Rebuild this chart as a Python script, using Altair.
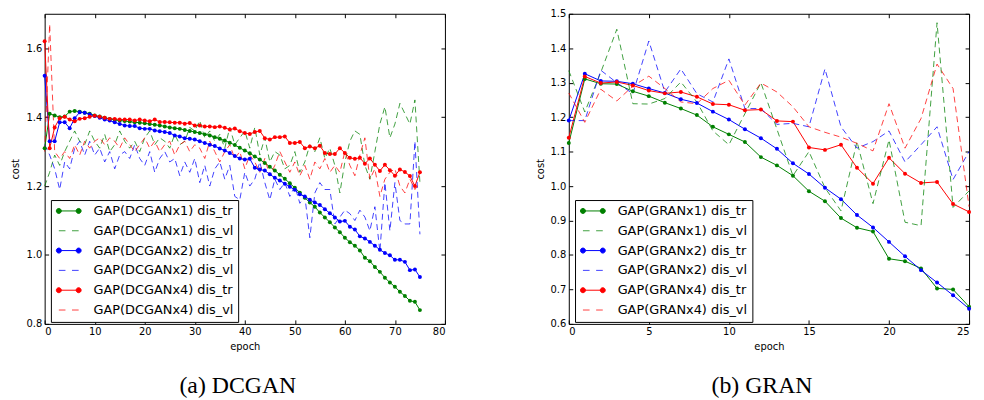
import altair as alt
import pandas as pd

# ---------------- DCGAN panel data (epochs 0..75) ----------------
dc_epochs = list(range(76))
dc_labels = ["GAP(DCGANx1) dis_tr", "GAP(DCGANx1) dis_vl",
             "GAP(DCGANx2) dis_tr", "GAP(DCGANx2) dis_vl",
             "GAP(DCGANx4) dis_tr", "GAP(DCGANx4) dis_vl"]

dc_x1_tr = [1.31, 1.41, 1.405, 1.40, 1.402, 1.416, 1.418, 1.416, 1.413, 1.41,
            1.405, 1.402, 1.398, 1.395, 1.392, 1.390, 1.389, 1.387, 1.385, 1.384,
            1.382, 1.380, 1.378, 1.376, 1.373, 1.370, 1.368, 1.366, 1.363, 1.360,
            1.357, 1.354, 1.350, 1.347, 1.342, 1.337, 1.332, 1.326, 1.319, 1.311,
            1.303, 1.295, 1.286, 1.277, 1.267, 1.256, 1.245, 1.233, 1.221, 1.208,
            1.195, 1.181, 1.166, 1.152, 1.140, 1.123, 1.109, 1.095, 1.080, 1.066,
            1.050, 1.037, 1.027, 1.013, 0.992, 0.982, 0.965, 0.951, 0.934, 0.920,
            0.908, 0.893, 0.881, 0.867, 0.864, 0.840]
dc_x1_vl = [1.20, 1.24, 1.29, 1.26, 1.30, 1.33, 1.36, 1.33, 1.32, 1.36,
            1.33, 1.31, 1.35, 1.30, 1.32, 1.36, 1.33, 1.31, 1.33, 1.30,
            1.34, 1.36, 1.32, 1.34, 1.33, 1.31, 1.35, 1.32, 1.33, 1.37,
            1.36, 1.39, 1.34, 1.36, 1.33, 1.35, 1.31, 1.37, 1.32, 1.34,
            1.36, 1.31, 1.37, 1.29, 1.34, 1.27, 1.30, 1.29, 1.25, 1.26,
            1.30, 1.24, 1.27, 1.32, 1.30, 1.34, 1.28, 1.31, 1.26, 1.18,
            1.27, 1.33, 1.36, 1.35, 1.26, 1.22, 1.30, 1.38, 1.43, 1.34,
            1.38, 1.44, 1.41, 1.38, 1.45, 1.21]
dc_x2_tr = [1.52, 1.33, 1.33, 1.385, 1.385, 1.368, 1.397, 1.414, 1.413, 1.408,
            1.403, 1.398, 1.393, 1.390, 1.385, 1.380, 1.376, 1.374, 1.374, 1.368,
            1.366, 1.366, 1.361, 1.359, 1.357, 1.354, 1.347, 1.344, 1.339, 1.337,
            1.335, 1.330, 1.325, 1.320, 1.316, 1.309, 1.303, 1.296, 1.287, 1.280,
            1.277, 1.279, 1.253, 1.248, 1.245, 1.234, 1.224, 1.216, 1.207, 1.198,
            1.189, 1.176, 1.170, 1.160, 1.152, 1.145, 1.133, 1.121, 1.109, 1.097,
            1.099, 1.082, 1.074, 1.054, 1.048, 1.038, 1.027, 1.015, 1.006, 0.999,
            0.986, 0.986, 0.980, 0.956, 0.958, 0.936]
dc_x2_vl = [1.32, 1.29, 1.25, 1.19, 1.27, 1.25, 1.31, 1.33, 1.29, 1.33,
            1.29, 1.31, 1.27, 1.30, 1.25, 1.29, 1.30, 1.28, 1.32, 1.28,
            1.26, 1.30, 1.24, 1.28, 1.30, 1.27, 1.28, 1.23, 1.27, 1.24,
            1.28, 1.21, 1.26, 1.20, 1.25, 1.27, 1.22, 1.26, 1.17, 1.16,
            1.24, 1.20, 1.22, 1.27, 1.21, 1.16, 1.22, 1.19, 1.21, 1.17,
            1.20, 1.15, 1.17, 1.05, 1.18, 1.21, 1.19, 1.19, 1.09, 1.11,
            1.13, 1.12, 1.10, 1.13, 1.11, 1.07, 1.14, 1.01, 1.21, 1.07,
            1.21, 1.10, 1.09, 1.09, 1.33, 1.06]
dc_x4_tr = [1.62, 1.31, 1.37, 1.397, 1.401, 1.393, 1.388, 1.395, 1.397, 1.401,
            1.404, 1.401, 1.398, 1.395, 1.395, 1.393, 1.393, 1.393, 1.390, 1.393,
            1.390, 1.388, 1.393, 1.386, 1.386, 1.385, 1.384, 1.384, 1.381, 1.383,
            1.376, 1.376, 1.373, 1.373, 1.371, 1.373, 1.369, 1.364, 1.367, 1.359,
            1.354, 1.351, 1.357, 1.360, 1.339, 1.335, 1.342, 1.342, 1.344, 1.325,
            1.325, 1.328, 1.310, 1.315, 1.310, 1.317, 1.296, 1.293, 1.293, 1.310,
            1.296, 1.282, 1.279, 1.282, 1.265, 1.280, 1.262, 1.244, 1.262, 1.246,
            1.230, 1.248, 1.241, 1.229, 1.200, 1.240]
dc_x4_vl = [1.30, 1.67, 1.30, 1.28, 1.30, 1.28, 1.32, 1.29, 1.33, 1.31,
            1.33, 1.34, 1.32, 1.34, 1.33, 1.31, 1.34, 1.32, 1.30, 1.32,
            1.34, 1.31, 1.33, 1.30, 1.32, 1.33, 1.29, 1.32, 1.33, 1.30,
            1.32, 1.31, 1.28, 1.33, 1.30, 1.27, 1.30, 1.32, 1.28, 1.30,
            1.25, 1.29, 1.27, 1.24, 1.28, 1.23, 1.26, 1.30, 1.27, 1.24,
            1.27, 1.23, 1.26, 1.22, 1.27, 1.25, 1.28, 1.24, 1.26, 1.24,
            1.30, 1.26, 1.23, 1.29, 1.34, 1.22, 1.25, 1.17, 1.22, 1.24,
            1.25, 1.20, 1.18, 1.22, 1.19, 1.21]

# ---------------- GRAN panel data (epochs 0..25) ----------------
gr_epochs = list(range(26))
gr_labels = ["GAP(GRANx1) dis_tr", "GAP(GRANx1) dis_vl",
             "GAP(GRANx2) dis_tr", "GAP(GRANx2) dis_vl",
             "GAP(GRANx4) dis_tr", "GAP(GRANx4) dis_vl"]

gr_x1_tr = [1.125, 1.311, 1.297, 1.296, 1.275, 1.261, 1.242, 1.225, 1.206, 1.172,
            1.150, 1.128, 1.084, 1.060, 1.030, 0.985, 0.956, 0.907, 0.879, 0.868,
            0.789, 0.782, 0.761, 0.703, 0.700, 0.650]
gr_x1_vl = [1.335, 1.215, 1.33, 1.455, 1.239, 1.238, 1.254, 1.302, 1.244, 1.16,
            1.12, 1.21, 1.30, 1.165, 1.03, 1.10, 0.995, 0.928, 1.129, 0.949,
            1.134, 0.895, 0.885, 1.474, 0.938, 0.986]
gr_x2_tr = [1.19, 1.326, 1.305, 1.304, 1.297, 1.283, 1.270, 1.252, 1.241, 1.216,
            1.193, 1.165, 1.139, 1.108, 1.066, 1.035, 0.995, 0.962, 0.916, 0.880,
            0.838, 0.796, 0.756, 0.720, 0.683, 0.644]
gr_x2_vl = [1.19, 1.19, 1.336, 1.30, 1.268, 1.421, 1.273, 1.340, 1.268, 1.244,
            1.369, 1.225, 1.225, 1.179, 1.182, 1.172, 1.340, 1.172, 1.110, 1.129,
            1.160, 1.070, 1.120, 1.172, 1.019, 1.100]
gr_x4_tr = [1.14, 1.318, 1.299, 1.302, 1.292, 1.277, 1.269, 1.273, 1.259, 1.238,
            1.236, 1.220, 1.222, 1.189, 1.187, 1.112, 1.105, 1.120, 1.053, 1.007,
            1.082, 1.036, 1.009, 1.012, 0.948, 0.925]
gr_x4_vl = [1.27, 1.185, 1.281, 1.247, 1.29, 1.319, 1.283, 1.244, 1.239, 1.283,
            1.307, 1.235, 1.299, 1.273, 1.230, 1.172, 1.156, 1.142, 1.124, 1.102,
            1.239, 1.110, 1.196, 1.354, 1.283, 0.94]

dc_xticks = [0, 10, 20, 30, 40, 50, 60, 70, 80]
dc_yticks = [0.8, 1.0, 1.2, 1.4, 1.6]
gr_xticks = [0, 5, 10, 15, 20, 25]
gr_yticks = [0.6, 0.7, 0.8, 0.9, 1.0, 1.1, 1.2, 1.3, 1.4, 1.5]

GROUPS = ["x1", "x2", "x4"]
GROUP_COLORS = ["#008000", "#0000ff", "#ff0000"]
LEG_COLORS = ["#008000", "#40a040", "#0000ff", "#4040ff", "#ff0000", "#ff4040"]
DOT = ("M-1.667,0H1.667"
       "M-1.247,0A0.42,0.42,0,1,1,-2.087,0A0.42,0.42,0,1,1,-1.247,0Z"
       "M2.087,0A0.42,0.42,0,1,1,1.247,0A0.42,0.42,0,1,1,2.087,0Z")
DASH = "M-1.667,0H-0.55M0.55,0H1.667"
SHAPES = [DOT, DASH, DOT, DASH, DOT, DASH]


def make_df(epochs, labels, series):
    rows = []
    for i, (lab, vals) in enumerate(zip(labels, series)):
        kind = "tr" if lab.endswith("tr") else "vl"
        for e, v in zip(epochs, vals):
            rows.append({"epoch": e, "value": v, "series": lab, "kind": kind,
                         "grp": GROUPS[i // 2]})
    return pd.DataFrame(rows)


def panel(df, labels, xdom, xticks, ydom, yticks, caption):
    xs = alt.Scale(domain=xdom, nice=False, zero=False)
    ys = alt.Scale(domain=ydom, nice=False, zero=False)
    gscale = alt.Scale(domain=GROUPS, range=GROUP_COLORS)
    common = dict(offset=-4, tickSize=4, domain=False, grid=False)

    tr_lines = alt.Chart(df).transform_filter(alt.datum.kind == "tr").mark_line(
        strokeWidth=1).encode(
        x=alt.X("epoch:Q", scale=xs,
                axis=alt.Axis(orient="bottom", values=xticks, format="d", title="epoch",
                              labelPadding=3, titlePadding=5, **common)),
        y=alt.Y("value:Q", scale=ys,
                axis=alt.Axis(orient="left", values=yticks, format=".1f", title="cost",
                              labelPadding=3, titlePadding=5, **common)),
        color=alt.Color("grp:N", scale=gscale, legend=None),
    )
    vl_lines = alt.Chart(df).transform_filter(alt.datum.kind == "vl").mark_line(
        strokeWidth=1, strokeDash=[6, 4], opacity=0.75).encode(
        x=alt.X("epoch:Q", scale=xs, axis=None),
        y=alt.Y("value:Q", scale=ys, axis=None),
        color=alt.Color("grp:N", scale=gscale, legend=None),
    )
    dots = alt.Chart(df).transform_filter(alt.datum.kind == "tr").mark_circle(
        size=16, opacity=1).encode(
        x=alt.X("epoch:Q", scale=xs,
                axis=alt.Axis(orient="top", values=xticks, labels=False, title=None, **common)),
        y=alt.Y("value:Q", scale=ys,
                axis=alt.Axis(orient="right", values=yticks, labels=False, title=None, **common)),
        color=alt.Color("grp:N", scale=gscale, legend=None),
    )
    leg = alt.Legend(orient="none", legendX=6.3, legendY=188, title=None,
                     labelFont="DejaVu Sans", labelFontSize=13, labelColor="black",
                     symbolSize=144, symbolStrokeWidth=1, symbolOpacity=1,
                     padding=4.5, rowPadding=6,
                     symbolOffset=7, labelOffset=18.5, strokeColor="black",
                     fillColor="white")
    legend_layer = alt.Chart(df).mark_point(filled=True, opacity=0).encode(
        x=alt.X("epoch:Q", scale=xs, axis=None),
        y=alt.Y("value:Q", scale=ys, axis=None),
        stroke=alt.Stroke("series:N", scale=alt.Scale(domain=labels, range=LEG_COLORS), legend=leg),
        fill=alt.Fill("series:N", scale=alt.Scale(domain=labels, range=LEG_COLORS), legend=leg),
        shape=alt.Shape("series:N", scale=alt.Scale(domain=labels, range=SHAPES), legend=leg),
    )
    return alt.layer(tr_lines, vl_lines, dots, legend_layer).resolve_axis(
        x="independent", y="independent").properties(
        width=404, height=313,
        title=alt.TitleParams(caption, orient="bottom", font="Liberation Serif",
                              fontSize=24, fontWeight="normal", color="black",
                              offset=23, dx=-7),
    )


dc_df = make_df(dc_epochs, dc_labels, [dc_x1_tr, dc_x1_vl, dc_x2_tr, dc_x2_vl, dc_x4_tr, dc_x4_vl])
gr_df = make_df(gr_epochs, gr_labels, [gr_x1_tr, gr_x1_vl, gr_x2_tr, gr_x2_vl, gr_x4_tr, gr_x4_vl])

left = panel(dc_df, dc_labels, [0, 80], dc_xticks, [0.8, 1.7], dc_yticks, "(a) DCGAN")
right = panel(gr_df, gr_labels, [0, 25], gr_xticks, [0.6, 1.5], gr_yticks, "(b) GRAN")

chart = alt.hconcat(left, right, spacing=125, bounds="flush").resolve_scale(
    x="independent", y="independent", color="independent", stroke="independent",
    fill="independent", shape="independent",
).configure_view(stroke="black", strokeWidth=1).configure_axis(
    labelFont="DejaVu Sans", labelFontSize=10, labelColor="black",
    titleFont="DejaVu Sans", titleFontSize=10, titleFontWeight="normal", titleColor="black",
    tickColor="black",
).properties(padding={"left": 2, "top": -2, "right": 0, "bottom": 0})

chart.save("out.html", embed_options={"renderer": "svg", "actions": False})
